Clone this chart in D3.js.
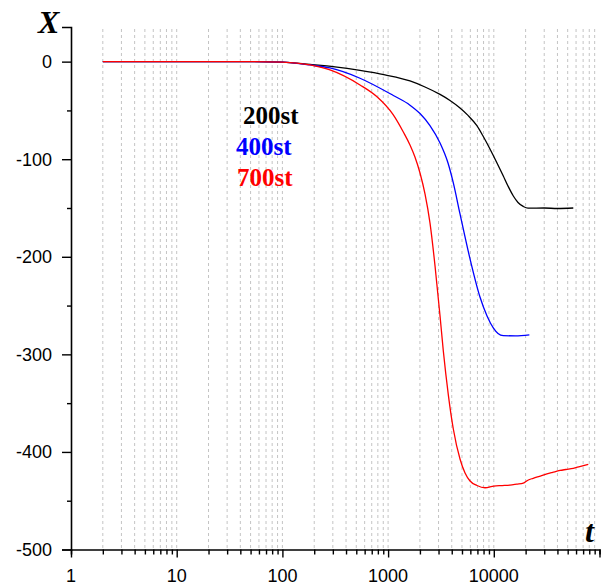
<!DOCTYPE html>
<html>
<head>
<meta charset="utf-8">
<script src="https://cdn.jsdelivr.net/npm/d3@7"></script>
<style>
  body { margin: 0; background: #fff; }
  .tick-label { font-family: "Liberation Sans", Arial, sans-serif; font-size: 18px; fill: #000; }
  .axis-title { font-family: "Liberation Serif", "Times New Roman", serif; font-weight: bold; font-style: italic; font-size: 32px; }
  .legend { font-family: "Liberation Serif", "Times New Roman", serif; font-weight: bold; font-size: 25px; }
</style>
</head>
<body>
<div id="chart"></div>
<script>
// time (t) and X values
const t200 = [2, 50, 100, 182.5, 314.6, 542, 935, 1611, 2234, 3100, 3852, 4790, 5700, 6890, 7905, 9200, 10720, 12300, 13620, 15300, 16940, 19000, 21070, 30000, 40000, 56500];
const x200 = [0, 0, -0.5, -2.9, -5.4, -9.0, -13.6, -19.8, -26, -33.6, -39.8, -47.5, -55.1, -65.4, -76.2, -89.5, -103.8, -117.2, -127.4, -137.7, -144.3, -148.4, -150.2, -150, -150.5, -150];

const t400 = [2, 50, 100, 182.5, 282, 542, 1120, 1611, 2004, 2490, 3100, 3688, 4140, 4790, 5960, 7400, 8630, 9890, 10960, 12300, 16000, 21700];
const x400 = [0, 0, -0.5, -3.4, -6.5, -17.0, -34.7, -44.6, -53.2, -65.6, -83.4, -103.9, -124.3, -156.1, -202.2, -241.2, -260.6, -272.9, -278.6, -280.8, -281, -280];

const t700 = [2, 50, 100, 182.5, 282, 542, 780, 1120, 1393, 1611, 1795, 2004, 2234, 2490, 2780, 3100, 3330, 3716, 4140, 4790, 5345, 5960, 6935, 8260, 10000, 12000, 14200, 16500, 19000, 21000, 23600, 27000, 31800, 36000, 42300, 48000, 56500, 65000, 78300];
const x700 = [0, 0, -0.5, -3.4, -8.5, -23.9, -35.8, -54.6, -72.1, -85.4, -97.7, -114.1, -135.6, -165.3, -209.4, -260.7, -296.6, -341.7, -376.5, -407.2, -421.6, -429.8, -434.4, -436.7, -435, -434.5, -434, -433, -432, -429, -427, -425, -422.6, -421, -419, -418, -416.8, -415, -412.7];

const seriesNames = ["200st", "400st", "700st"];
const seriesColors = ["#000000", "#0000ff", "#ff0000"];

const xTickValues = [1, 10, 100, 1000, 10000];
const yTickValues = [0, -100, -200, -300, -400, -500];

class LogChart {
    constructor(width, height) {
        this.width = width || 603;
        this.height = height || 585;

        this.xScale = d3.scaleLog()
            .domain([1, 100000])
            .range([71, 599.5]);

        this.yScale = d3.scaleLinear()
            .domain([-500, 35.5])
            .range([549.5, 27]);

        this.series = [
            { name: seriesNames[0], color: seriesColors[0], pts: t200.map((t, i) => [t, x200[i]]) },
            { name: seriesNames[1], color: seriesColors[1], pts: t400.map((t, i) => [t, x400[i]]) },
            { name: seriesNames[2], color: seriesColors[2], pts: t700.map((t, i) => [t, x700[i]]) }
        ];
    }

    renderSvg(id) {
        this.svg = d3.select(id).append("svg")
            .attr("width", this.width)
            .attr("height", this.height);
    }

    renderGrid() {
        const minor = [];
        for (let p = 1; p <= 10000; p *= 10) {
            for (let m = 1; m <= 9; m++) {
                const v = m * p;
                if (v > 1) minor.push(v);
            }
        }
        this.svg.append("g")
            .selectAll("line")
            .data(minor)
            .enter().append("line")
            .attr("x1", d => this.xScale(d))
            .attr("x2", d => this.xScale(d))
            .attr("y1", this.yScale.range()[1] + 2)
            .attr("y2", this.yScale.range()[0])
            .attr("stroke", "#c4c4c4")
            .attr("stroke-width", 1)
            .attr("stroke-dasharray", "3,3");
    }

    renderAxis() {
        const y0 = this.yScale(-500);
        const x0 = this.xScale(1);

        // x axis
        const allX = [];
        for (let p = 1; p <= 10000; p *= 10) {
            for (let m = 1; m <= 9; m++) allX.push(m * p);
        }
        allX.push(100000);

        const axisX = d3.axisBottom(this.xScale)
            .tickValues(allX)
            .tickSizeOuter(0)
            .tickSize(5)
            .tickFormat("");
        const gx = this.svg.append("g")
            .attr("transform", "translate(0," + y0 + ")")
            .call(axisX);
        gx.select(".domain").attr("stroke-width", 1.6);
        gx.selectAll(".tick line")
            .attr("stroke-width", 1.4)
            .attr("y2", d => (Math.log10(d) % 1 === 0 ? 8 : 5));

        this.svg.append("g")
            .selectAll("text")
            .data(xTickValues)
            .enter().append("text")
            .attr("class", "tick-label")
            .attr("x", d => this.xScale(d))
            .attr("y", 582)
            .style("text-anchor", "middle")
            .text(d => d);

        // y axis
        const allY = d3.range(-500, 1, 50);
        const axisY = d3.axisLeft(this.yScale)
            .tickValues(allY)
            .tickSizeOuter(0)
            .tickSize(9)
            .tickFormat("");
        const gy = this.svg.append("g")
            .attr("transform", "translate(" + x0 + ",0)")
            .call(axisY);
        gy.select(".domain").attr("stroke-width", 1.6);
        gy.selectAll(".tick line")
            .attr("stroke-width", 1.4)
            .attr("x2", d => (d % 100 === 0 ? -9 : -4));

        this.svg.append("g")
            .selectAll("text")
            .data(yTickValues)
            .enter().append("text")
            .attr("class", "tick-label")
            .attr("x", 52)
            .attr("y", d => this.yScale(d) + 6.5)
            .style("text-anchor", "end")
            .text(d => d);
    }

    renderLabels() {
        this.svg.append("text")
            .attr("class", "axis-title")
            .attr("x", 38)
            .attr("y", 33)
            .text("X");

        this.svg.append("text")
            .attr("class", "axis-title")
            .attr("x", 585)
            .attr("y", 542)
            .text("t");

        const legendPos = [[243, 124], [236, 155], [237, 186]];
        this.svg.append("g")
            .selectAll("text")
            .data(this.series)
            .enter().append("text")
            .attr("class", "legend")
            .attr("x", (d, i) => legendPos[i][0])
            .attr("y", (d, i) => legendPos[i][1])
            .attr("fill", d => d.color)
            .text(d => d.name);
    }

    renderLines() {
        const line = d3.line()
            .x(d => this.xScale(d[0]))
            .y(d => this.yScale(d[1]))
            .curve(d3.curveMonotoneX);

        this.svg.append("g")
            .selectAll("path")
            .data(this.series)
            .enter().append("path")
            .attr("fill", "none")
            .attr("stroke", d => d.color)
            .attr("stroke-width", 1.3)
            .attr("d", d => line(d.pts));
    }

    render(id) {
        this.renderSvg(id);
        this.renderGrid();
        this.renderAxis();
        this.renderLines();
        this.renderLabels();
    }
}

new LogChart(603, 585).render("#chart");
</script>
</body>
</html>
